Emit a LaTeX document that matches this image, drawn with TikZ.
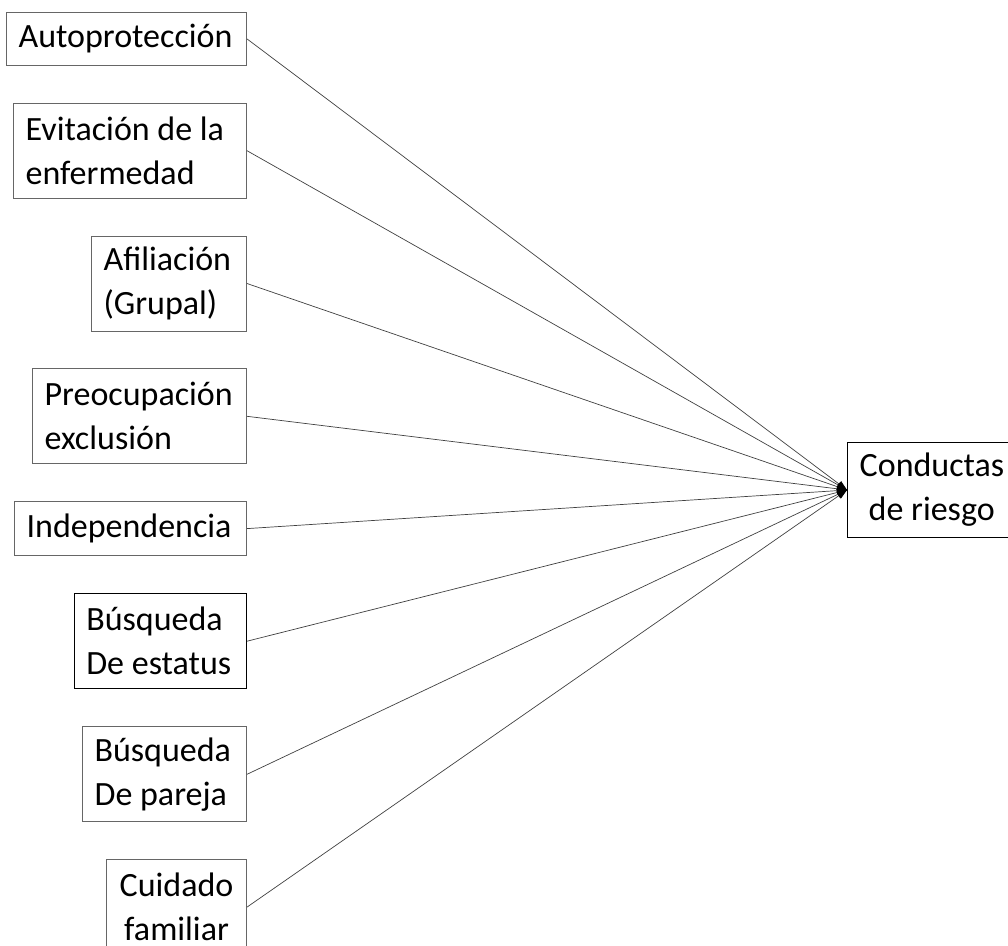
\documentclass[tikz,border=0pt]{standalone}
\usepackage{fontspec}
\setmainfont{Carlito}
\usepackage{tikz}
\usetikzlibrary{arrows.meta,positioning}
\tikzset{
  motbox/.style={rectangle, draw=black!60, line width=0.8pt, inner xsep=12pt, inner ysep=3pt, align=flush left, font=\fontsize{34}{44}\selectfont},
  motboxbold/.style={motbox, draw=black, line width=1.4pt},
  riskbox/.style={rectangle, draw=black, line width=1.4pt, inner xsep=12pt, inner ysep=3pt, align=flush center, text width=144pt, minimum height=95pt, font=\fontsize{34}{44}\selectfont},
  motarrow/.style={-{Triangle[length=10pt,width=7pt,color=black]}, draw=black!75, line width=0.7pt}
}
\begin{document}
\begin{tikzpicture}[node distance=37pt]
\useasboundingbox (0pt,0pt) rectangle (1008pt,-945pt);
\node[motbox, text width=216pt, minimum height=53pt, anchor=north east] (auto) at (247pt,-12pt) {Autoprotección};
\node[motbox, text width=209pt, minimum height=95pt, below=of auto.south east, anchor=north east] (evit) {Evitación de la\\enfermedad};
\node[motbox, text width=131pt, minimum height=95pt, below=of evit.south east, anchor=north east] (afil) {Afiliación\\(Grupal)};
\node[motbox, text width=190pt, minimum height=95pt, below=of afil.south east, anchor=north east] (preo) {Preocupación\\exclusión};
\node[motbox, text width=208pt, minimum height=54pt, below=of preo.south east, anchor=north east] (indep) {Independencia};
\node[motboxbold, text width=148pt, minimum height=95pt, below=of indep.south east, anchor=north east] (estat) {Búsqueda\\De estatus};
\node[motbox, text width=140pt, minimum height=95pt, below=of estat.south east, anchor=north east] (pareja) {Búsqueda\\De pareja};
\node[motbox, text width=116pt, minimum height=95pt, align=flush center, below=of pareja.south east, anchor=north east] (cuid) {Cuidado\\familiar};
\node[riskbox, anchor=west] (riesgo) at (847pt,-490pt) {Conductas\\de riesgo};
\draw[motarrow] (auto.east) -- (riesgo.west);
\draw[motarrow] (evit.east) -- (riesgo.west);
\draw[motarrow] (afil.east) -- (riesgo.west);
\draw[motarrow] (preo.east) -- (riesgo.west);
\draw[motarrow] (indep.east) -- (riesgo.west);
\draw[motarrow] (estat.east) -- (riesgo.west);
\draw[motarrow] (pareja.east) -- (riesgo.west);
\draw[motarrow] (cuid.east) -- (riesgo.west);
\end{tikzpicture}
\end{document}
